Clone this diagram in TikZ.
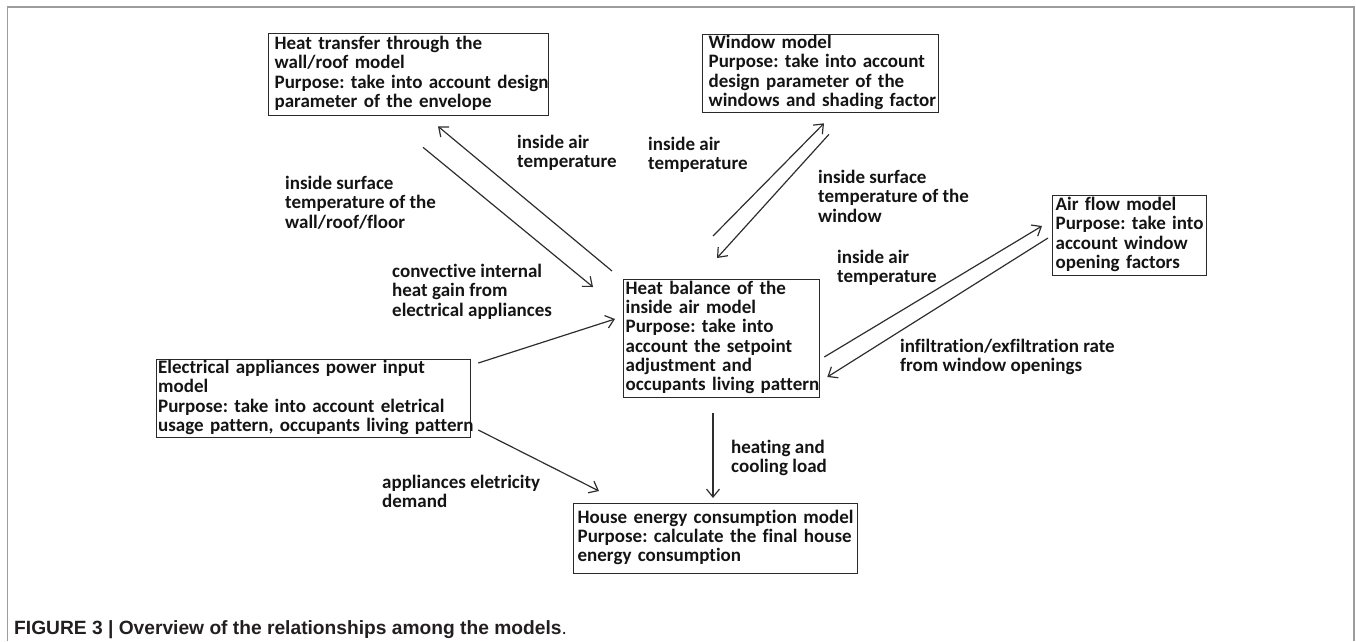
\documentclass[tikz,border=0pt]{standalone}
\usepackage{fontspec}
\setmainfont{Carlito}[Ligatures={NoCommon}]
\newfontfamily\capfont{Liberation Sans}
\usetikzlibrary{arrows.meta,calc}
\definecolor{txtcol}{HTML}{141414}
\definecolor{boxcol}{HTML}{2A2A2A}
\definecolor{arrcol}{HTML}{2E2E2E}
\definecolor{framecol}{HTML}{9C9C9C}
\definecolor{capcol}{HTML}{231F20}
\newcommand\boxlines[1]{\begin{tabular}{@{}l@{}}#1\end{tabular}}
\frenchspacing
\begin{document}
\begin{tikzpicture}[x=1pt,y=-1pt,
  mbox/.style={draw=boxcol, line width=1.3pt, anchor=north west, inner ysep=0pt,
    align=left, text=txtcol, font=\bfseries\fontsize{19}{19.3}\selectfont},
  lbl/.style={anchor=west, inner sep=0pt, align=left, text=txtcol,
    font=\bfseries\fontsize{19}{19.3}\selectfont},
  arr/.style={draw=arrcol, line width=1.2pt, -{Straight Barb[length=8pt,width=13pt]}}]
\useasboundingbox (0,0) rectangle (1356,641);
\draw[framecol, line width=1.5pt] (7.5,641) -- (7.5,7) -- (1354,7) -- (1354,641);

% boxes
\node[mbox, text width=268pt, inner xsep=6pt, minimum height=82pt] (b1) at (268,33)
  {\boxlines{Heat transfer through the\\ wall/roof model\\ Purpose: take into account design\\ parameter of the envelope}};
\node[mbox, text width=224pt, inner xsep=6pt, minimum height=78pt] (b2) at (702,34)
  {\boxlines{Window model\\ Purpose: take into account\\ design parameter of the\\ windows and shading factor}};
\node[mbox, text width=148pt, inner xsep=3pt, minimum height=80pt] (b3) at (1052,195)
  {\boxlines{Air flow model\\ Purpose: take into\\ account window\\ opening factors}};
\node[mbox, text width=192pt, inner xsep=2pt, minimum height=118pt] (b4) at (623,279)
  {\boxlines{Heat balance of the\\ inside air model\\ Purpose: take into\\ account the setpoint\\ adjustment and\\ occupants living pattern}};
\node[mbox, text width=311pt, inner xsep=1.5pt, minimum height=78pt] (b5) at (156,359)
  {\boxlines{Electrical appliances power input\\ model\\ Purpose: take into account eletrical\\ usage pattern, occupants living pattern}};
\node[mbox, text width=276pt, inner xsep=4pt, minimum height=70pt] (b6) at (573,503)
  {\boxlines{House energy consumption model\\ Purpose: calculate the final house\\ energy consumption}};

% labels
\node[lbl] (l1) at (517,154) {\boxlines{inside air\\ temperature}};
\node[lbl] (l2) at (285,205) {\boxlines{inside surface\\ temperature of the\\ wall/roof/floor}};
\node[lbl] (l3) at (392,293) {\boxlines{convective internal\\ heat gain from\\ electrical appliances}};
\node[lbl] (l4) at (648,156) {\boxlines{inside air\\ temperature}};
\node[lbl] (l5) at (818,199) {\boxlines{inside surface\\ temperature of the\\ window}};
\node[lbl] (l6) at (837,269) {\boxlines{inside air\\ temperature}};
\node[lbl] (l7) at (900,358) {\boxlines{infiltration/exfiltration rate\\ from window openings}};
\node[lbl] (l8) at (382,494) {\boxlines{appliances eletricity\\ demand}};
\node[lbl] (l9) at (731,459) {\boxlines{heating and\\ cooling load}};

% connectors
\draw[arr] ($(b4.north west)+(-11,-8)$) -- ($(b1.south west)+(170,10)$);
\draw[arr] ($(b1.south west)+(155,31)$) -- ($(b4.north west)+(-30,8)$);
\draw[arr] ($(b4.north west)+(90,-43)$) -- ($(b2.south west)+(122,10)$);
\draw[arr] ($(b2.south west)+(127,21)$) -- ($(b4.north west)+(94,-21)$);
\draw[arr] ($(b4.north east)+(4,78)$) -- ($(b3.north west)+(-10,31)$);
\draw[arr] ($(b3.north west)+(-4,43)$) -- ($(b4.north east)+(7,98)$);
\draw[arr] ($(b5.north east)+(7,4)$) -- ($(b4.north west)+(-8,40)$);
\draw[arr] ($(b5.north east)+(7,71)$) -- ($(b6.north west)+(26,-12)$);
\draw[arr] ($(b4.south west)+(90,15)$) -- ($(b6.north west)+(140,-5)$);

% caption
\node[anchor=base west, inner sep=0pt, text=capcol, font=\capfont\fontsize{19.2}{22}\selectfont] (cap) at (14,634)
  {\textbf{FIGURE 3 | Overview of the relationships among the models}.};
\end{tikzpicture}
\end{document}
